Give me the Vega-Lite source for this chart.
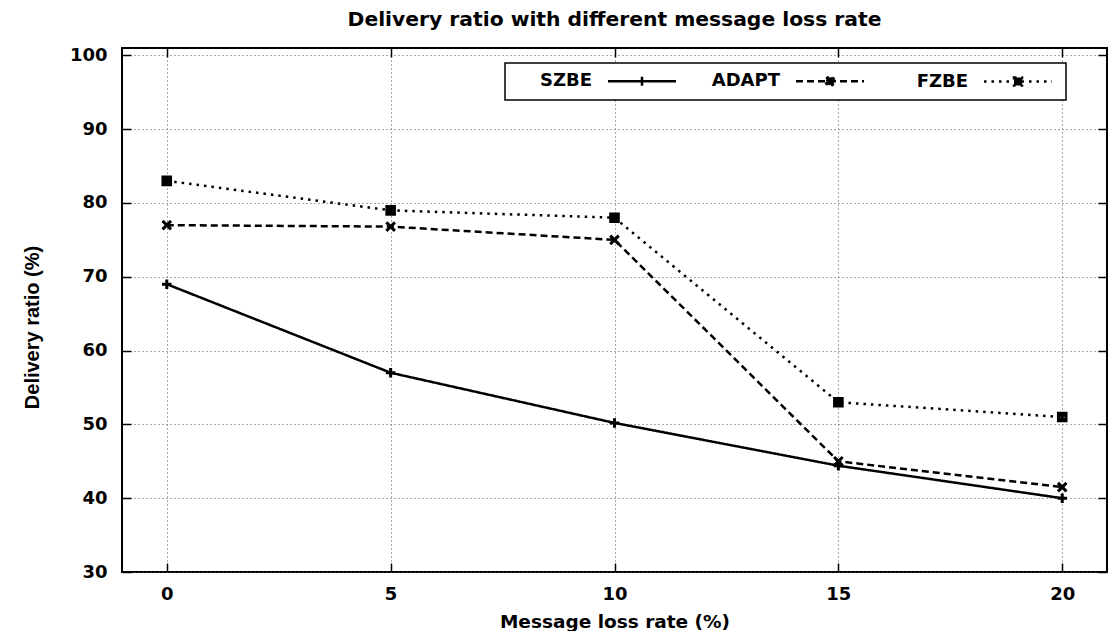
{
  "$schema": "https://vega.github.io/schema/vega-lite/v6.json",
  "width": 985,
  "height": 524,
  "autosize": "none",
  "padding": {"left": 122, "top": 48, "right": 2, "bottom": 59},
  "background": "white",
  "title": {
    "text": "Delivery ratio with different message loss rate",
    "font": "DejaVu Sans",
    "fontSize": 20.3,
    "fontWeight": "bold",
    "color": "black",
    "offset": 16,
    "anchor": "middle",
    "frame": "group"
  },
  "config": {
    "view": {"stroke": "black", "strokeWidth": 2},
    "legend": {"strokeWidth": 1.5},
    "axis": {
      "labelFont": "DejaVu Sans",
      "labelFontWeight": "bold",
      "labelFontSize": 18,
      "labelColor": "black",
      "titleColor": "black",
      "domain": false,
      "tickColor": "black",
      "tickWidth": 1.5,
      "tickSize": -9,
      "gridColor": "#555555",
      "gridDash": [1, 3],
      "gridWidth": 1,
      "labelFlush": false
    }
  },
  "data": {
    "values": [
      {"rate": 0, "ratio": 69, "series": "SZBE"},
      {"rate": 5, "ratio": 57, "series": "SZBE"},
      {"rate": 10, "ratio": 50.2, "series": "SZBE"},
      {"rate": 15, "ratio": 44.4, "series": "SZBE"},
      {"rate": 20, "ratio": 40, "series": "SZBE"},
      {"rate": 0, "ratio": 77, "series": "ADAPT"},
      {"rate": 5, "ratio": 76.8, "series": "ADAPT"},
      {"rate": 10, "ratio": 75, "series": "ADAPT"},
      {"rate": 15, "ratio": 45, "series": "ADAPT"},
      {"rate": 20, "ratio": 41.5, "series": "ADAPT"},
      {"rate": 0, "ratio": 83, "series": "FZBE"},
      {"rate": 5, "ratio": 79, "series": "FZBE"},
      {"rate": 10, "ratio": 78, "series": "FZBE"},
      {"rate": 15, "ratio": 53, "series": "FZBE"},
      {"rate": 20, "ratio": 51, "series": "FZBE"}
    ]
  },
  "encoding": {
    "x": {"field": "rate", "type": "quantitative", "scale": {"domain": [-1, 21], "nice": false, "zero": false}},
    "y": {"field": "ratio", "type": "quantitative", "scale": {"domain": [30, 101], "nice": false, "zero": false}}
  },
  "layer": [
    {
      "mark": {"type": "line", "strokeWidth": 2.5, "color": "black"},
      "encoding": {
        "x": {
          "field": "rate",
          "type": "quantitative",
          "axis": {
            "orient": "bottom",
            "values": [0, 5, 10, 15, 20],
            "grid": true,
            "labelPadding": 22,
            "title": "Message loss rate (%)",
            "titleFont": "DejaVu Sans",
            "titleFontWeight": "bold",
            "titleFontSize": 18.5,
            "titlePadding": 9
          }
        },
        "y": {
          "field": "ratio",
          "type": "quantitative",
          "axis": {
            "orient": "left",
            "values": [30, 40, 50, 60, 70, 80, 90, 100],
            "grid": true,
            "labelPadding": 24,
            "title": "Delivery ratio (%)",
            "titleFont": "Liberation Sans",
            "titleFontWeight": "bold",
            "titleFontSize": 20,
            "titleX": -80,
            "titleY": 279
          }
        },
        "strokeDash": {
          "field": "series",
          "type": "nominal",
          "scale": {
            "domain": ["SZBE", "ADAPT", "FZBE"],
            "range": [[1, 0], [7, 4], [2.5, 5]]
          },
          "legend": {
            "title": null,
            "orient": "none",
            "legendX": 383,
            "legendY": 15,
            "direction": "horizontal",
            "strokeColor": "black",
            "fillColor": "white",
            "padding": 9,
            "labelFont": "DejaVu Sans",
            "labelFontWeight": "bold",
            "labelFontSize": 18,
            "labelColor": "black",
            "labelAlign": "right",
            "labelBaseline": "middle",
            "labelOffset": -59,
            "symbolOffset": 119,
            "symbolSize": 100,
            "symbolStrokeWidth": 2.5,
            "symbolStrokeColor": "black",
            "columnPadding": 21,
            "gridAlign": "all",
            "encode": {
              "symbols": {
                "update": {
                  "shape": {
                    "signal": "datum.value === 'SZBE' ? 'M-6.8,0H6.8M0,-0.9V0.9M-0.9,0H0.9' : datum.value === 'ADAPT' ? 'M-6.8,0H6.8M0.93,-0.62L0.31,0L0.93,0.62L0.62,0.93L0,0.31L-0.62,0.93L-0.93,0.62L-0.31,0L-0.93,-0.62L-0.62,-0.93L0,-0.31L0.62,-0.93Z' : 'M-6.8,0H6.8M-0.8,-0.8H0.8V0.8H-0.8Z'"
                  },
                  "fill": {"signal": "datum.value === 'SZBE' ? 'transparent' : 'black'"},
                  "stroke": {"value": "black"}
                }
              }
            }
          }
        }
      }
    },
    {
      "transform": [{"filter": "datum.series === 'SZBE'"}],
      "mark": {"type": "point", "filled": false, "strokeWidth": 3, "color": "black", "size": 90, "opacity": 1, "shape": "M-1,0H1M0,-1V1"},
      "encoding": {
        "x": {
          "field": "rate",
          "type": "quantitative",
          "axis": {"orient": "top", "values": [0, 5, 10, 15, 20], "labels": false, "title": null, "grid": false}
        },
        "y": {
          "field": "ratio",
          "type": "quantitative",
          "axis": {"orient": "right", "values": [30, 40, 50, 60, 70, 80, 90, 100], "labels": false, "title": null, "grid": false}
        }
      }
    },
    {
      "transform": [{"filter": "datum.series === 'ADAPT'"}],
      "mark": {"type": "point", "filled": false, "strokeWidth": 3, "color": "black", "size": 90, "opacity": 1, "shape": "M-0.9,-0.9L0.9,0.9M-0.9,0.9L0.9,-0.9"},
      "encoding": {
        "x": {"field": "rate", "type": "quantitative", "axis": null},
        "y": {"field": "ratio", "type": "quantitative", "axis": null}
      }
    },
    {
      "transform": [{"filter": "datum.series === 'FZBE'"}],
      "mark": {"type": "point", "filled": false, "strokeWidth": 3, "color": "black", "size": 90, "opacity": 1, "shape": "M-0.8,-0.8H0.8V0.8H-0.8ZM-0.8,-0.8L0.8,0.8M-0.8,0.8L0.8,-0.8"},
      "encoding": {
        "x": {"field": "rate", "type": "quantitative", "axis": null},
        "y": {"field": "ratio", "type": "quantitative", "axis": null}
      }
    }
  ],
  "resolve": {"axis": {"x": "independent", "y": "independent"}}
}
